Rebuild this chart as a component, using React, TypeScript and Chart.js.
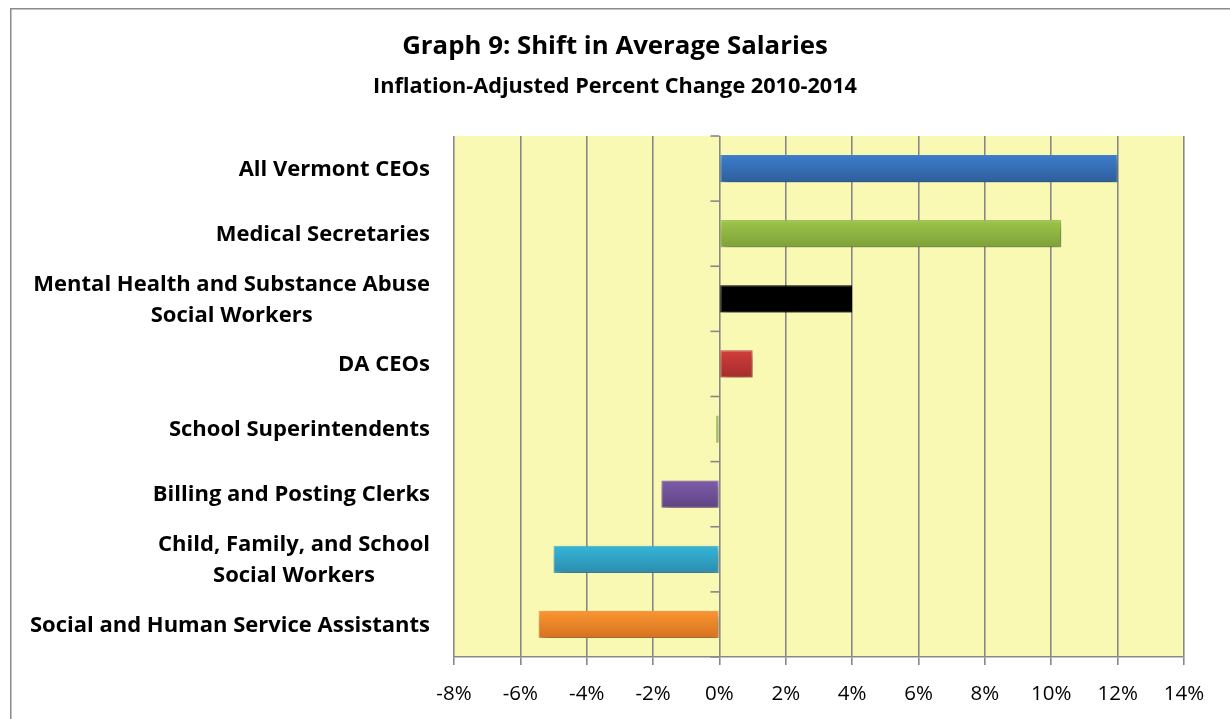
import { useEffect, useRef } from 'react';
import { Chart, registerables } from 'chart.js';

Chart.register(...registerables);

const titleText = 'Graph 9: Shift in Average Salaries';
const subtitleText = 'Inflation-Adjusted Percent Change 2010-2014';

const categories: string[][] = [
  ['All Vermont CEOs'],
  ['Medical Secretaries'],
  ['Mental Health and Substance Abuse', 'Social Workers'],
  ['DA CEOs'],
  ['School Superintendents'],
  ['Billing and Posting Clerks'],
  ['Child, Family, and School', 'Social Workers'],
  ['Social and Human Service Assistants'],
];

const values = [12.0, 10.3, 4.0, 1.0, -0.1, -1.75, -5.0, -5.45];

const topColors = ['#3C7DCB', '#9DC54A', '#000000', '#D03E3C', '#C9DB92', '#7D5CA8', '#36B6D8', '#FA9532'];
const bottomColors = ['#2E5E9C', '#7EA13A', '#000000', '#A52C2B', '#C9DB92', '#5E4484', '#2B8DAE', '#D6721F'];
const borderColors = ['#4A89D2', '#A7CB5E', '#000000', '#D55452', '#9BBB59', '#8B6CB4', '#4FC0DE', '#FBA552'];

const xMin = -8;
const xMax = 14;
const xStep = 2;

const FONT = '"Open Sans", Lato, sans-serif';

export default function App() {
  const ref = useRef<HTMLCanvasElement | null>(null);

  useEffect(() => {
    const canvas = ref.current;
    if (!canvas) return;

    const decorPlugin = {
      id: 'decor',
      beforeDraw(chart: any) {
        const { ctx, chartArea } = chart;
        ctx.save();
        ctx.fillStyle = '#ffffff';
        ctx.fillRect(0, 0, chart.width, chart.height);
        ctx.strokeStyle = '#8a8a8a';
        ctx.lineWidth = 1.5;
        ctx.strokeRect(10.75, 8.75, 1400, 900);
        ctx.fillStyle = '#F9F9B4';
        ctx.fillRect(chartArea.left, chartArea.top, chartArea.right - chartArea.left, chartArea.bottom - chartArea.top);
        ctx.restore();
      },
      beforeDatasetsDraw(chart: any) {
        const { ctx } = chart;
        const xs = chart.scales.x;
        const ys = chart.scales.y;
        const x0 = xs.getPixelForValue(0);
        ctx.save();
        ctx.strokeStyle = '#888888';
        ctx.lineWidth = 1.6;
        for (let i = 0; i <= categories.length; i++) {
          const y = ys.getPixelForValue(i - 0.5);
          ctx.beginPath();
          ctx.moveTo(x0 - 9, y);
          ctx.lineTo(x0, y);
          ctx.stroke();
        }
        ctx.restore();
        ctx.save();
        ctx.shadowColor = 'rgba(0,0,0,0.45)';
        ctx.shadowBlur = 9;
        ctx.shadowOffsetX = 2;
        ctx.shadowOffsetY = 4;
      },
      afterDatasetsDraw(chart: any) {
        chart.ctx.restore();
      },
      afterDraw(chart: any) {
        const { ctx } = chart;
        const ys = chart.scales.y;
        ctx.save();
        ctx.fillStyle = '#000000';
        ctx.textBaseline = 'middle';
        ctx.textAlign = 'center';
        ctx.font = `bold 25.8px ${FONT}`;
        ctx.fillText(titleText, 615, 47);
        ctx.font = `bold 21.7px ${FONT}`;
        ctx.fillText(subtitleText, 615, 87);

        ctx.font = `bold 22px ${FONT}`;
        const rightEdge = 430;
        const lh = 31;
        categories.forEach((lines, i) => {
          const yc = ys.getPixelForValue(i) + 1;
          const maxW = Math.max(...lines.map((l) => ctx.measureText(l).width));
          const cx = rightEdge - maxW / 2;
          lines.forEach((line, j) => {
            ctx.fillText(line, cx, yc + (j - (lines.length - 1) / 2) * lh);
          });
        });
        ctx.restore();
      },
    };

    const barPct = 0.42;

    const gradientFor = (c: any) => {
      const i = c.dataIndex;
      const chart = c.chart;
      const ys = chart.scales && chart.scales.y;
      if (!ys || !chart.chartArea) return topColors[i];
      const yc = ys.getPixelForValue(i);
      const band = Math.abs(ys.getPixelForValue(1) - ys.getPixelForValue(0));
      const h = (band * barPct) / 2;
      const g = chart.ctx.createLinearGradient(0, yc - h, 0, yc + h);
      g.addColorStop(0, topColors[i]);
      g.addColorStop(1, bottomColors[i]);
      return g;
    };

    const chart = new Chart(canvas, {
      type: 'bar',
      data: {
        labels: categories,
        datasets: [
          {
            data: values,
            backgroundColor: gradientFor,
            borderColor: borderColors,
            borderWidth: 1.2,
            borderSkipped: false,
            categoryPercentage: 1,
            barPercentage: barPct,
          },
        ],
      },
      options: {
        indexAxis: 'y',
        animation: false,
        responsive: false,
        devicePixelRatio: 1,
        layout: { padding: { left: 454, top: 136, right: 46, bottom: 0 } },
        plugins: {
          legend: { display: false },
          title: { display: false },
          tooltip: { enabled: false },
        },
        scales: {
          x: {
            type: 'linear',
            position: 'bottom',
            min: xMin,
            max: xMax,
            afterFit: (scale: any) => {
              scale.height = 62;
            },
            ticks: {
              stepSize: xStep,
              callback: (v: any) => `${v}%`,
              color: '#000000',
              font: { family: FONT, size: 20.5 },
              padding: 17,
            },
            grid: {
              color: '#888888',
              lineWidth: 1.6,
              tickLength: 8,
              drawTicks: true,
            },
            border: { display: true, color: '#888888', width: 1.6 },
          },
          y: {
            type: 'category',
            display: false,
            offset: true,
          },
        },
      },
      plugins: [decorPlugin],
    });

    return () => chart.destroy();
  }, []);

  return (
    <div style={{ position: 'absolute', left: 0, top: 0, width: 1230, height: 719, overflow: 'hidden' }}>
      <canvas ref={ref} width={1230} height={719} style={{ display: 'block', width: 1230, height: 719 }} />
    </div>
  );
}
